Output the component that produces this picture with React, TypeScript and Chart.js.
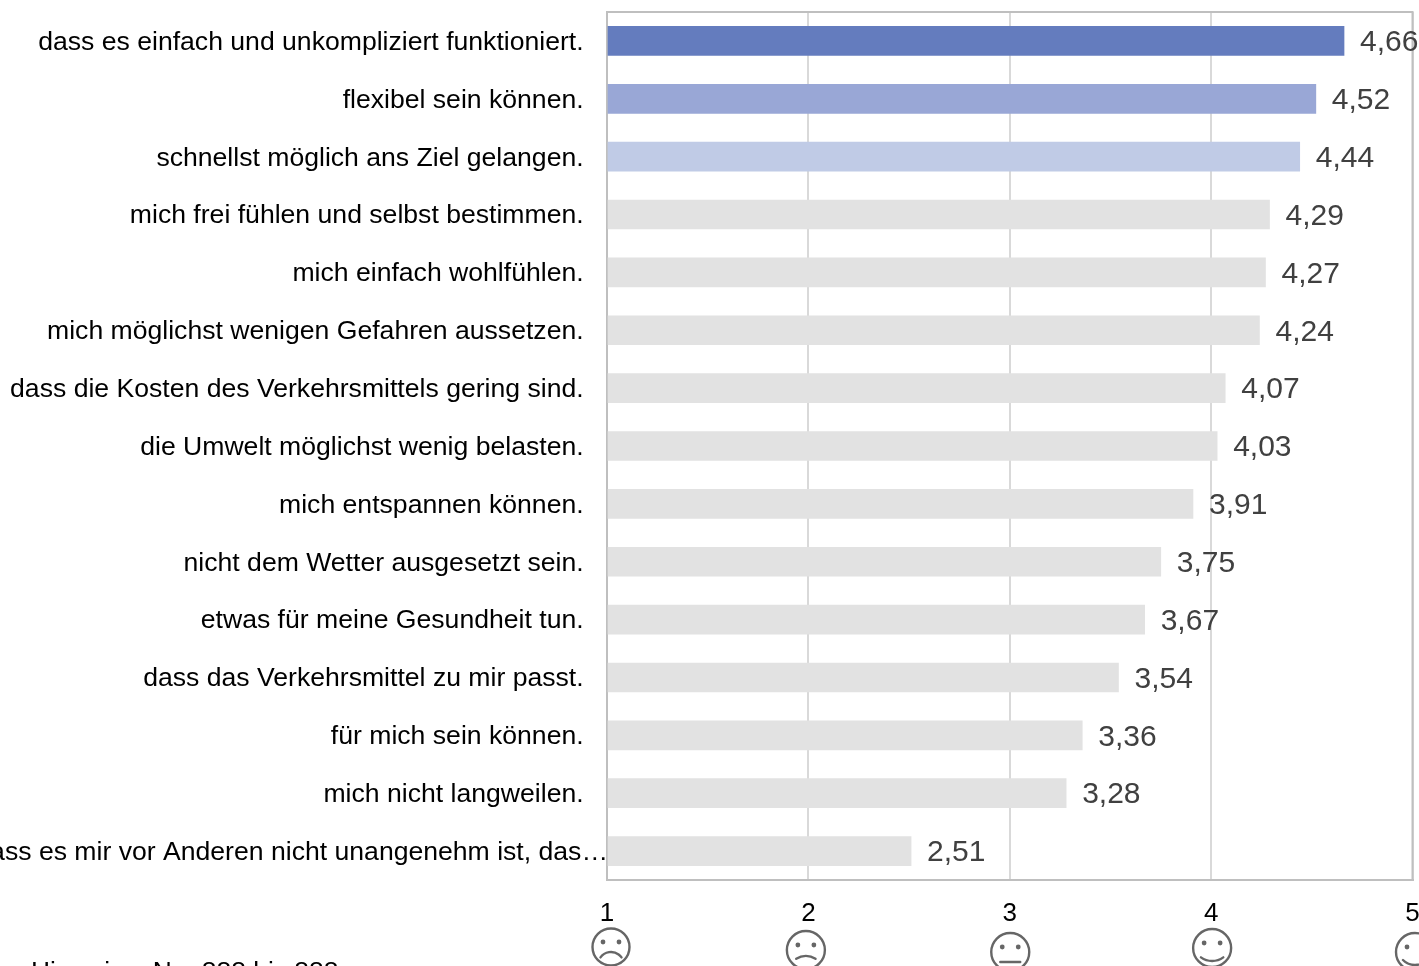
import React, { useEffect, useRef } from "react";
import { Chart, registerables } from "chart.js";

Chart.register(...registerables);

const categories = [
  "dass es einfach und unkompliziert funktioniert.",
  "flexibel sein können.",
  "schnellst möglich ans Ziel gelangen.",
  "mich frei fühlen und selbst bestimmen.",
  "mich einfach wohlfühlen.",
  "mich möglichst wenigen Gefahren aussetzen.",
  "dass die Kosten des Verkehrsmittels gering sind.",
  "die Umwelt möglichst wenig belasten.",
  "mich entspannen können.",
  "nicht dem Wetter ausgesetzt sein.",
  "etwas für meine Gesundheit tun.",
  "dass das Verkehrsmittel zu mir passt.",
  "für mich sein können.",
  "mich nicht langweilen.",
  "dass es mir vor Anderen nicht unangenehm ist, das…",
];
const values = [4.66, 4.52, 4.44, 4.29, 4.27, 4.24, 4.07, 4.03, 3.91, 3.75, 3.67, 3.54, 3.36, 3.28, 2.51];
const barColors = ["#647cbe", "#99a7d6", "#c0cbe6"];
const restColor = "#e2e2e2";
const note = "Hinweise: N = 888 bis 888";
const FONT = '"Liberation Sans", Arial, sans-serif';

type Mood = { value: number; dx: number; dy: number; r: number; mouth: "frown" | "slight" | "flat" | "smile" | "grin" };
const moods: Mood[] = [
  { value: 1, dx: 4, dy: 947, r: 18.5, mouth: "frown" },
  { value: 2, dx: -2.5, dy: 950, r: 19, mouth: "slight" },
  { value: 3, dx: 0.5, dy: 952, r: 19, mouth: "flat" },
  { value: 4, dx: 1, dy: 948, r: 19, mouth: "smile" },
  { value: 5, dx: 2.5, dy: 952, r: 19, mouth: "grin" },
];

const overlay = {
  id: "overlay",
  afterDatasetsDraw(chart: any) {
    const { ctx } = chart;
    const meta = chart.getDatasetMeta(0);
    ctx.save();
    ctx.font = `30px ${FONT}`;
    ctx.fillStyle = "#404040";
    ctx.textAlign = "left";
    ctx.textBaseline = "middle";
    meta.data.forEach((bar: any, i: number) => {
      ctx.fillText(values[i].toFixed(2).replace(".", ","), bar.x + 16, bar.y + 2);
    });
    ctx.restore();
  },
  afterDraw(chart: any) {
    const { ctx, scales } = chart;
    ctx.save();
    ctx.font = `26.4px ${FONT}`;
    ctx.fillStyle = "#000000";
    ctx.textAlign = "left";
    ctx.textBaseline = "alphabetic";
    ctx.fillText(note, 31, 980);
    ctx.lineWidth = 2.4;
    ctx.strokeStyle = "#666666";
    ctx.lineCap = "round";
    moods.forEach((m) => {
      const cx = scales.x.getPixelForValue(m.value) + m.dx;
      const cy = m.dy;
      ctx.beginPath();
      ctx.arc(cx, cy, m.r, 0, Math.PI * 2);
      ctx.stroke();
      ctx.fillStyle = "#666666";
      [-8, 8].forEach((ex) => {
        ctx.beginPath();
        ctx.arc(cx + ex, cy - 5, 2.4, 0, Math.PI * 2);
        ctx.fill();
      });
      ctx.beginPath();
      if (m.mouth === "frown") ctx.arc(cx, cy + 18, 13, Math.PI * 1.2, Math.PI * 1.8);
      if (m.mouth === "slight") ctx.arc(cx, cy + 24, 18, Math.PI * 1.32, Math.PI * 1.68);
      if (m.mouth === "flat") {
        ctx.moveTo(cx - 10, cy + 10);
        ctx.lineTo(cx + 10, cy + 10);
      }
      if (m.mouth === "smile") ctx.arc(cx, cy - 6, 19, Math.PI * 0.3, Math.PI * 0.7);
      if (m.mouth === "grin") ctx.arc(cx, cy - 4, 17, Math.PI * 0.25, Math.PI * 0.75);
      ctx.stroke();
    });
    ctx.restore();
  },
};

export default function App() {
  const ref = useRef<HTMLCanvasElement>(null);
  useEffect(() => {
    document.body.style.margin = "0";
    document.body.style.overflow = "hidden";
    const last = categories.length - 1;
    const chart = new Chart(ref.current!, {
      type: "bar",
      data: {
        labels: categories,
        datasets: [
          {
            data: values,
            base: 1,
            backgroundColor: values.map((_, i) => barColors[i] ?? restColor),
            barThickness: 29,
          },
        ],
      },
      options: {
        indexAxis: "y",
        animation: false,
        responsive: false,
        layout: { padding: { top: 12, right: 6.5, left: 0, bottom: 0 } },
        plugins: { legend: { display: false }, tooltip: { enabled: false } },
        scales: {
          x: {
            min: 1,
            max: 5,
            ticks: {
              stepSize: 1,
              color: "#000000",
              padding: 18,
              font: { family: FONT, size: 26 },
              maxRotation: 0,
              autoSkip: false,
            },
            grid: { color: "#d9d9d9", lineWidth: 2, drawTicks: false, z: -1 },
            border: { color: "#bfbfbf", width: 2 },
            afterFit(s: any) {
              s.height = 86;
              s.paddingLeft = 0;
              s.paddingRight = 0;
            },
          },
          y: {
            type: "category",
            grid: { display: false, drawTicks: false },
            border: { color: "#bfbfbf", width: 2 },
            ticks: {
              color: "#000000",
              padding: -1,
              labelOffset: 1.5,
              autoSkip: false,
              font: { family: FONT, size: 26.6 },
              // trailing spaces set every label back from the axis; the last one runs up to it
              callback: (_: any, i: number) => categories[i] + (i < last ? "\u00A0\u00A0\u00A0\u200A" : ""),
            },
            afterFit(s: any) {
              s.width = 607;
              s.paddingTop = 0;
              s.paddingBottom = 0;
            },
          },
        },
      },
      plugins: [
        overlay,
        {
          id: "frame",
          beforeDatasetsDraw(c: any) {
            const { ctx, chartArea: a } = c;
            ctx.save();
            ctx.strokeStyle = "#bfbfbf";
            ctx.lineWidth = 2;
            ctx.strokeRect(a.left, a.top, a.right - a.left, a.bottom - a.top);
            ctx.restore();
          },
        },
      ],
    } as any);
    return () => chart.destroy();
  }, []);
  return (
    <div style={{ position: "absolute", left: 0, top: 0, width: 1419, height: 966, overflow: "hidden", background: "#fff" }}>
      <canvas ref={ref} width={1419} height={966} style={{ display: "block" }} />
    </div>
  );
}
